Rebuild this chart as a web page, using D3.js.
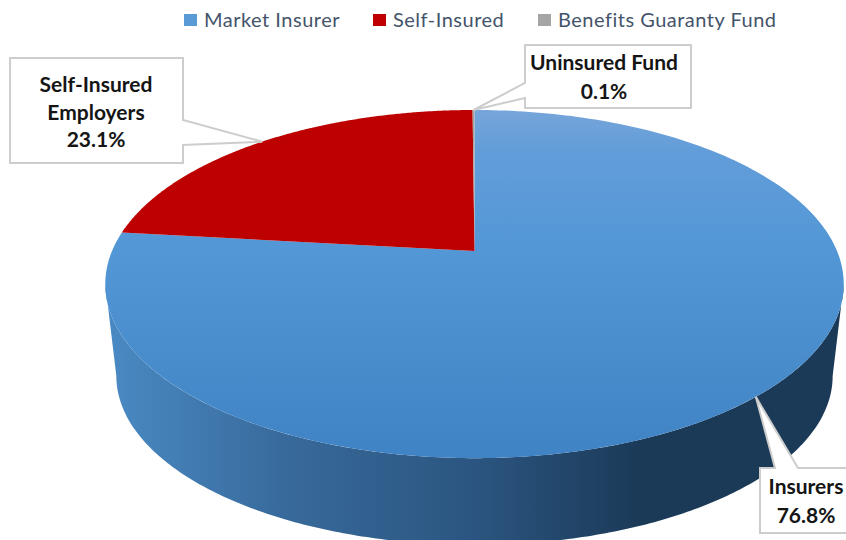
<!DOCTYPE html>
<html>
<head>
<meta charset="utf-8">
<script src="https://cdn.jsdelivr.net/npm/d3@7"></script>
<style>
  html, body { margin: 0; padding: 0; background: #fff; }
  svg { display: block; }
  text { font-family: Lato, "Open Sans", sans-serif; }
</style>
</head>
<body>
<svg id="chart" width="846" height="540"></svg>
<script>
// Share of the market by coverage type, in percent
const segments = ["Market Insurer", "Self-Insured", "Benefits Guaranty Fund"];
const shares = [76.8, 23.1, 0.1];
const segmentColors = ["#5b9bd5", "#c00000", "#a5a5a5"];
const calloutLines = [["Insurers", "76.8%"], ["Self-Insured", "Employers", "23.1%"], ["Uninsured Fund", "0.1%"]];

const width = 846, height = 540;
const svg = d3.select("#chart").attr("viewBox", [0, 0, width, height]);
const defs = svg.append("defs");

// Tilted disc: perspective projection of the unit circle onto the page
const disc = { cx: 474.5, cy: 251, rx: 362.5, ry: 167.8, k: 0.19 };
const rim = { scale: 0.97, ellipseTop: 284, ellipseBottom: 376 };

function project(u, v) {
  const w = 1 - disc.k * v;
  return [disc.cx + disc.rx * u / w, disc.cy + disc.ry * v / w];
}
// Angle is measured clockwise from the top of the disc
const onDisc = a => project(Math.sin(a), -Math.cos(a));
const onBase = a => {
  const [x, y] = onDisc(a);
  return [disc.cx + rim.scale * (x - disc.cx), rim.ellipseBottom + rim.scale * (y - rim.ellipseTop)];
};

const slices = d3.pie().sort(null)(shares);
const line = d3.line();
const sample = (a0, a1, fn) => d3.range(0, 241).map(i => fn(a0 + (a1 - a0) * i / 240));

// Gradient fills for the top face and the rim
const topGrad = defs.append("linearGradient").attr("id", "topFace")
  .attr("gradientUnits", "userSpaceOnUse").attr("x1", 0).attr("x2", 0).attr("y1", 110).attr("y2", 458);
[[0, "#76a5da"], [0.12, "#629dd9"], [0.4, "#5397d6"], [1, "#3f83c4"]].forEach(([o, c]) =>
  topGrad.append("stop").attr("offset", o).attr("stop-color", c));

const rimGrad = defs.append("linearGradient").attr("id", "rimFace")
  .attr("gradientUnits", "userSpaceOnUse").attr("x1", 106).attr("x2", 846).attr("y1", 0).attr("y2", 0);
[[0, "#4a8ac4"], [0.25, "#37699a"], [0.5, "#2b5580"], [0.72, "#1b3a58"], [1, "#1b3a58"]].forEach(([o, c]) =>
  rimGrad.append("stop").attr("offset", o).attr("stop-color", c));

// Rim: joined at the widest points of the disc and base outlines
const widest = Math.PI - Math.acos(disc.k);
const rimRight = widest, rimLeft = 2 * Math.PI - widest;
const rimPath = [...sample(rimRight, rimLeft, onDisc), ...sample(rimLeft, rimRight, onBase)];
svg.append("path").attr("d", line(rimPath) + "Z").attr("fill", "url(#rimFace)");

// Top face, one wedge per share
const fills = ["url(#topFace)", "#bd0000", segmentColors[2]];
svg.selectAll("path.wedge").data(slices).join("path")
  .attr("class", "wedge")
  .attr("fill", (d, i) => fills[i])
  .attr("d", d => line([project(0, 0), ...sample(d.startAngle, d.endAngle, onDisc)]) + "Z");

// Callout boxes with a tail reaching the middle of each wedge
const boxes = [
  { x: 760, y: 468, w: 96, h: 65, tail: [775, 798], side: "top" },
  { x: 10, y: 58, w: 173, h: 105, tail: [120, 145], side: "right" },
  { x: 525, y: 45, w: 166, h: 63, tail: [83, 98], side: "left" }
];
const lineStep = [29, 27.5, 29];
const textTop = [494, 92, 70];
const textCenter = [806, 96, 604];

const callouts = svg.selectAll("g.callout").data(slices).join("g").attr("class", "callout");
callouts.append("path")
  .attr("fill", "#fff").attr("stroke", "#cdcdcd").attr("stroke-width", 2)
  .attr("stroke-linejoin", "miter")
  .attr("d", (d, i) => {
    const b = boxes[i];
    const tip = onDisc((d.startAngle + d.endAngle) / 2);
    const x1 = b.x + b.w, y1 = b.y + b.h;
    if (b.side === "top") {
      return line([[b.x, b.y], [b.tail[0], b.y], tip, [b.tail[1], b.y], [x1, b.y], [x1, y1], [b.x, y1]]) + "Z";
    }
    if (b.side === "right") {
      return line([[b.x, b.y], [x1, b.y], [x1, b.tail[0]], tip, [x1, b.tail[1]], [x1, y1], [b.x, y1]]) + "Z";
    }
    return line([[b.x, b.y], [x1, b.y], [x1, y1], [b.x, y1], [b.x, b.tail[1]], tip, [b.x, b.tail[0]]]) + "Z";
  });
callouts.each(function (d, i) {
  d3.select(this).selectAll("text").data(calloutLines[i]).join("text")
    .attr("x", textCenter[i])
    .attr("y", (t, j) => textTop[i] + j * lineStep[i])
    .attr("text-anchor", "middle")
    .attr("font-size", 21)
    .attr("font-weight", 700)
    .attr("fill", "#151515")
    .text(t => t);
});

// Legend along the top
const legendX = d3.scaleOrdinal().domain(segments).range([184, 373, 538]);
const legend = svg.selectAll("g.legend").data(segments).join("g")
  .attr("class", "legend")
  .attr("transform", d => `translate(${legendX(d)},0)`);
legend.append("rect").attr("y", 14).attr("width", 13).attr("height", 12)
  .attr("fill", (d, i) => segmentColors[i]);
legend.append("text").attr("x", 20).attr("y", 27)
  .attr("font-size", 20).attr("letter-spacing", 0.5)
  .attr("fill", "#44546a").text(d => d);
</script>
</body>
</html>
